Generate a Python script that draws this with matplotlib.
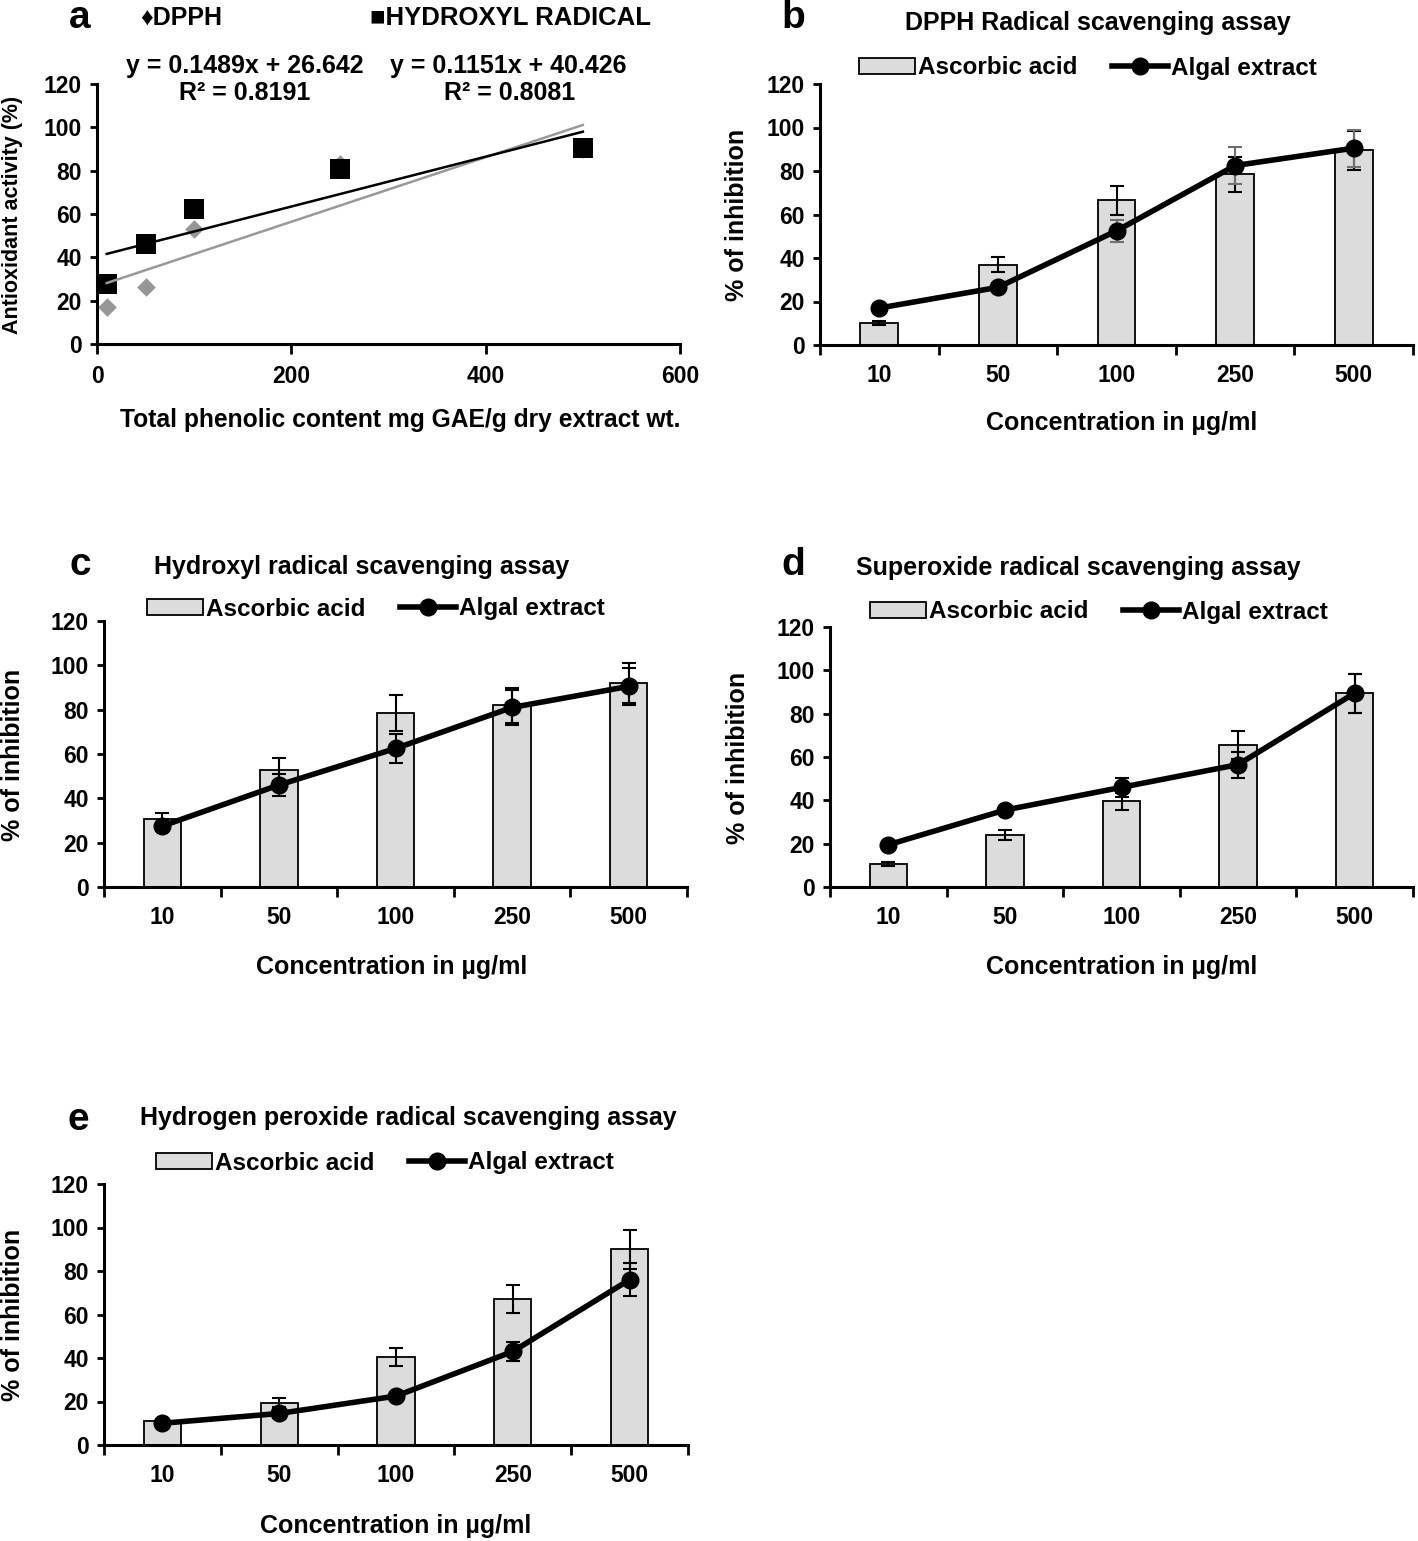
import numpy as np
import matplotlib
matplotlib.use("Agg")
import matplotlib.pyplot as plt
from matplotlib.patches import Patch
from matplotlib.lines import Line2D

plt.rcParams['font.family'] = ['Liberation Sans', 'DejaVu Sans']
plt.rcParams['font.weight'] = 'bold'

W, H = 1418, 1541

# ---------------- data ----------------
phenolic = [10, 50, 100, 250, 500]
dpph_activity = [17, 26.5, 53, 83, 90]
hydroxyl_activity = [27.5, 46, 62.5, 81, 90.5]
dpph_fit = (0.1489, 26.642)
hydroxyl_fit = (0.1151, 40.426)

conc_labels = ['10', '50', '100', '250', '500']

dpph_ascorbic = [10, 37, 66.5, 78.5, 89.5]
dpph_ascorbic_err = [1, 3.5, 6.5, 8, 9]
dpph_algal = [17, 26.5, 52.5, 82.5, 90.5]
dpph_algal_err = [1, 1, 5, 8.5, 8.5]

hyd_ascorbic = [30.5, 53, 78.5, 82, 92]
hyd_ascorbic_err = [3, 5, 8, 8, 9]
hyd_algal = [27.5, 46, 62.5, 81, 90.5]
hyd_algal_err = [2, 5, 6.5, 8, 8.5]

sup_ascorbic = [10.5, 24, 39.5, 65.5, 89.5]
sup_ascorbic_err = [1, 2.5, 4, 6.5, 9]
sup_algal = [19.5, 35.5, 46, 56.5, 89.5]
sup_algal_err = [1, 1, 4.5, 6, 9]

hp_ascorbic = [11, 19.5, 40.5, 67, 90]
hp_ascorbic_err = [0.5, 2, 4, 6.5, 9]
hp_algal = [10, 14.5, 22.5, 43, 76]
hp_algal_err = [1, 1.5, 1, 4.5, 7.5]

# ---------------- helpers ----------------
fig = plt.figure(figsize=(W / 100, H / 100), dpi=100)

TICK_FS = 16.5
LAB_FS = 18
TITLE_FS = 18
LEG_FS = 17.5


def ax_px(left, top, right, bottom):
    return fig.add_axes([left / W, 1 - bottom / H, (right - left) / W, (bottom - top) / H])


def ft(x, y, s, size=15, ha='center', va='center', **kw):
    fig.text(x / W, 1 - y / H, s, fontsize=size, ha=ha, va=va, fontweight='bold', **kw)


BAR_C = '#dcdcdc'


def style_axes(ax):
    for sp in ['top', 'right']:
        ax.spines[sp].set_visible(False)
    for sp in ['left', 'bottom']:
        ax.spines[sp].set_linewidth(2.2)
    ax.set_ylim(0, 120)
    ax.set_yticks(np.arange(0, 121, 20))
    ax.tick_params(axis='y', direction='out', length=5, width=2, labelsize=TICK_FS, pad=6)
    for lab in ax.get_yticklabels():
        lab.set_fontweight('bold')


def bar_panel(box, ascorbic, a_err, algal, g_err, algal_err_color='black'):
    ax = ax_px(*box)
    x = np.arange(len(conc_labels))
    ax.bar(x, ascorbic, width=0.32, color=BAR_C, edgecolor='black', linewidth=1.3, zorder=2)
    ax.errorbar(x, ascorbic, yerr=a_err, fmt='none', ecolor='black', elinewidth=1.5,
                capsize=5, capthick=1.5, zorder=3)
    ax.errorbar(x, algal, yerr=g_err, fmt='none', ecolor=algal_err_color, elinewidth=1.5,
                capsize=5, capthick=1.5, zorder=4)
    ax.plot(x, algal, color='black', linewidth=4, marker='o', markersize=12, zorder=5)
    ax.set_xlim(-0.5, len(conc_labels) - 0.5)
    style_axes(ax)
    ax.set_xticks(np.arange(-0.5, len(conc_labels)), labels=[''] * (len(conc_labels) + 1))
    ax.set_xticks(x, labels=conc_labels, minor=True)
    ax.tick_params(axis='x', which='major', direction='out', length=7, width=2)
    ax.tick_params(axis='x', which='minor', length=0, labelsize=TICK_FS, pad=14)
    for lab in ax.get_xticklabels(minor=True):
        lab.set_fontweight('bold')
    return ax


def legend_at(cx, cy):
    handles = [Patch(facecolor=BAR_C, edgecolor='black', linewidth=1.3),
               Line2D([0], [0], color='black', linewidth=4, marker='o', markersize=12)]
    fig.legend(handles, ['Ascorbic acid', 'Algal extract'], loc='center',
               bbox_to_anchor=(cx / W, 1 - cy / H), ncol=2, frameon=False,
               prop={'size': LEG_FS, 'weight': 'bold'}, handlelength=2.3, handleheight=0.6,
               handletextpad=0.15, columnspacing=1.4, borderaxespad=0)


# ---------------- panel a ----------------
axa = ax_px(97, 84, 680, 344)
axa.scatter(phenolic, dpph_activity, marker='D', s=90, color='#969696', zorder=2, linewidths=0)
axa.scatter(phenolic, hydroxyl_activity, marker='s', s=210, color='black', zorder=3, linewidths=0)
xf = np.array([min(phenolic), max(phenolic)])
axa.plot(xf, dpph_fit[0] * xf + dpph_fit[1], color='#999999', linewidth=1.8, zorder=4)
axa.plot(xf, hydroxyl_fit[0] * xf + hydroxyl_fit[1], color='black', linewidth=1.8, zorder=4)
axa.set_xlim(0, 600)
axa.set_xticks([0, 200, 400, 600])
style_axes(axa)
axa.tick_params(axis='x', direction='out', length=7, width=2, labelsize=TICK_FS, pad=8)
for lab in axa.get_xticklabels():
    lab.set_fontweight('bold')

ft(80, 18, 'a', size=28)
ft(140, 18, '\u2666DPPH', size=18, ha='left')
ft(370, 18, '\u25a0HYDROXYL RADICAL', size=18.5, ha='left')
ft(245, 66, 'y = 0.1489x + 26.642', size=18)
ft(245, 93, 'R\u00b2 = 0.8191', size=18)
ft(508, 66, 'y = 0.1151x + 40.426', size=18)
ft(510, 93, 'R\u00b2 = 0.8081', size=18)
ft(400, 420, 'Total phenolic content mg GAE/g dry extract wt.', size=17.7)
ft(13, 215, 'Antioxidant activity (%)', size=15.5, rotation=90)

# ---------------- panel b ----------------
bar_panel((820, 84, 1413, 345), dpph_ascorbic, dpph_ascorbic_err, dpph_algal, dpph_algal_err,
          algal_err_color='#707070')
ft(793, 18, 'b', size=28)
ft(1098, 23, 'DPPH Radical scavenging assay', size=TITLE_FS)
legend_at(1088, 68)
ft(1122, 423, 'Concentration in \u00b5g/ml', size=LAB_FS)
ft(737, 215, '% of inhibition', size=LAB_FS, rotation=90)

# ---------------- panel c ----------------
bar_panel((104, 621, 687, 887), hyd_ascorbic, hyd_ascorbic_err, hyd_algal, hyd_algal_err)
ft(80, 565, 'c', size=28)
ft(362, 567, 'Hydroxyl radical scavenging assay', size=TITLE_FS)
legend_at(376, 609)
ft(392, 967, 'Concentration in \u00b5g/ml', size=LAB_FS)
ft(13, 755, '% of inhibition', size=LAB_FS, rotation=90)

# ---------------- panel d ----------------
bar_panel((830, 627, 1413, 887), sup_ascorbic, sup_ascorbic_err, sup_algal, sup_algal_err)
ft(793, 565, 'd', size=28)
ft(1078, 568, 'Superoxide radical scavenging assay', size=TITLE_FS)
legend_at(1099, 612)
ft(1122, 967, 'Concentration in \u00b5g/ml', size=LAB_FS)
ft(738, 758, '% of inhibition', size=LAB_FS, rotation=90)

# ---------------- panel e ----------------
bar_panel((104, 1184, 688, 1445), hp_ascorbic, hp_ascorbic_err, hp_algal, hp_algal_err)
ft(78, 1120, 'e', size=28)
ft(408, 1118, 'Hydrogen peroxide radical scavenging assay', size=TITLE_FS)
legend_at(385, 1163)
ft(396, 1526, 'Concentration in \u00b5g/ml', size=LAB_FS)
ft(13, 1315, '% of inhibition', size=LAB_FS, rotation=90)

fig.savefig('out.png', dpi=100, facecolor='white')
